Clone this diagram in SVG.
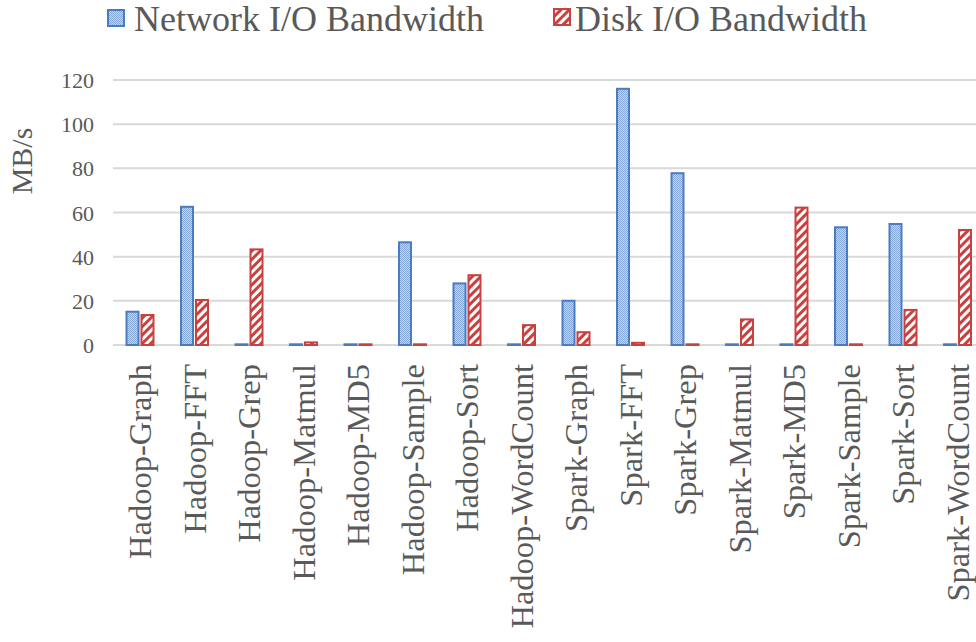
<svg xmlns="http://www.w3.org/2000/svg" width="976" height="642" viewBox="0 0 976 642">
<defs>
<pattern id="dots" width="2" height="2" patternUnits="userSpaceOnUse">
<rect width="2" height="2" fill="#c3d5ee"/>
<rect width="1" height="1" fill="#86a8d8"/>
<rect x="1" y="1" width="1" height="1" fill="#86a8d8"/>
</pattern>
<pattern id="hatch" width="6" height="6" patternUnits="userSpaceOnUse" patternTransform="rotate(45)">
<rect width="6" height="6" fill="#ffffff"/>
<rect width="3" height="6" fill="#c9413f"/>
</pattern>
</defs>
<style>
.grid{stroke:#d9d9d9;stroke-width:2;fill:none}
.net{fill:url(#dots);stroke:#4a7cc2;stroke-width:2}
.disk{fill:url(#hatch);stroke:#c9413f;stroke-width:2}
.tick{font-family:"Liberation Serif","Times New Roman",serif;font-size:22px;fill:#595959;text-anchor:end}
.cat{font-family:"Liberation Serif","Times New Roman",serif;font-size:32.5px;fill:#595959;text-anchor:end}
.leg{font-family:"Liberation Serif","Times New Roman",serif;font-size:36px;fill:#595959}
</style>
<rect width="976" height="642" fill="#ffffff"/>
<g id="gridlines">
<line class="grid" x1="113" y1="80" x2="976" y2="80"/>
<line class="grid" x1="113" y1="124.2" x2="976" y2="124.2"/>
<line class="grid" x1="113" y1="168.3" x2="976" y2="168.3"/>
<line class="grid" x1="113" y1="212.5" x2="976" y2="212.5"/>
<line class="grid" x1="113" y1="256.7" x2="976" y2="256.7"/>
<line class="grid" x1="113" y1="300.8" x2="976" y2="300.8"/>
<line class="grid" x1="113" y1="345" x2="976" y2="345"/>
</g>
<g id="yaxis">
<text class="tick" x="94" y="88">120</text>
<text class="tick" x="94" y="132">100</text>
<text class="tick" x="94" y="176">80</text>
<text class="tick" x="94" y="221">60</text>
<text class="tick" x="94" y="265">40</text>
<text class="tick" x="94" y="309">20</text>
<text class="tick" x="94" y="353">0</text>
<text font-family="'Liberation Serif','Times New Roman',serif" font-size="30" fill="#595959" text-anchor="middle" transform="translate(32,161) rotate(-90)">MB/s</text>
</g>
<g id="bars">
<rect class="net" x="126.5" y="311.7" width="12" height="33.3"/>
<rect class="disk" x="141.5" y="315" width="12" height="30"/>
<rect class="net" x="181" y="206.8" width="12" height="138.2"/>
<rect class="disk" x="196" y="300" width="12" height="45"/>
<rect class="net" x="235.5" y="344.3" width="12" height="0.7"/>
<rect class="disk" x="250.5" y="249.4" width="12" height="95.6"/>
<rect class="net" x="290" y="344.3" width="12" height="0.7"/>
<rect class="disk" x="305" y="342.4" width="12" height="2.6"/>
<rect class="net" x="344.5" y="344.3" width="12" height="0.7"/>
<rect class="disk" x="359.5" y="344.3" width="12" height="0.7"/>
<rect class="net" x="399" y="242.3" width="12" height="102.7"/>
<rect class="disk" x="414" y="344.3" width="12" height="0.7"/>
<rect class="net" x="453.5" y="283.4" width="12" height="61.6"/>
<rect class="disk" x="468.5" y="275.2" width="12" height="69.8"/>
<rect class="net" x="508" y="344.3" width="12" height="0.7"/>
<rect class="disk" x="523" y="325.1" width="12" height="19.9"/>
<rect class="net" x="562.5" y="300.8" width="12" height="44.2"/>
<rect class="disk" x="577.5" y="332.2" width="12" height="12.8"/>
<rect class="net" x="617" y="88.8" width="12" height="256.2"/>
<rect class="disk" x="632" y="342.8" width="12" height="2.2"/>
<rect class="net" x="671.5" y="173.2" width="12" height="171.8"/>
<rect class="disk" x="686.5" y="344.3" width="12" height="0.7"/>
<rect class="net" x="726" y="344.3" width="12" height="0.7"/>
<rect class="disk" x="741" y="319.4" width="12" height="25.6"/>
<rect class="net" x="780.5" y="344.3" width="12" height="0.7"/>
<rect class="disk" x="795.5" y="207.6" width="12" height="137.4"/>
<rect class="net" x="835" y="227.3" width="12" height="117.7"/>
<rect class="disk" x="850" y="344.3" width="12" height="0.7"/>
<rect class="net" x="889.5" y="224" width="12" height="121"/>
<rect class="disk" x="904.5" y="309.9" width="12" height="35.1"/>
<rect class="net" x="944" y="344.3" width="12" height="0.7"/>
<rect class="disk" x="959" y="230" width="12" height="115"/>
</g>
<g id="categories">
<text class="cat" transform="translate(151,364) rotate(-90)">Hadoop-Graph</text>
<text class="cat" transform="translate(205.5,364) rotate(-90)">Hadoop-FFT</text>
<text class="cat" transform="translate(260,364) rotate(-90)">Hadoop-Grep</text>
<text class="cat" transform="translate(314.5,364) rotate(-90)">Hadoop-Matmul</text>
<text class="cat" transform="translate(369,364) rotate(-90)">Hadoop-MD5</text>
<text class="cat" transform="translate(423.5,364) rotate(-90)">Hadoop-Sample</text>
<text class="cat" transform="translate(478,364) rotate(-90)">Hadoop-Sort</text>
<text class="cat" transform="translate(532.5,364) rotate(-90)">Hadoop-WordCount</text>
<text class="cat" transform="translate(587,364) rotate(-90)">Spark-Graph</text>
<text class="cat" transform="translate(641.5,364) rotate(-90)">Spark-FFT</text>
<text class="cat" transform="translate(696,364) rotate(-90)">Spark-Grep</text>
<text class="cat" transform="translate(750.5,364) rotate(-90)">Spark-Matmul</text>
<text class="cat" transform="translate(805,364) rotate(-90)">Spark-MD5</text>
<text class="cat" transform="translate(859.5,364) rotate(-90)">Spark-Sample</text>
<text class="cat" transform="translate(914,364) rotate(-90)">Spark-Sort</text>
<text class="cat" transform="translate(968.5,364) rotate(-90)">Spark-WordCount</text>
</g>
<g id="legend">
<rect class="net" x="108" y="10" width="16" height="16"/>
<text class="leg" x="134" y="31">Network I/O Bandwidth</text>
<rect class="disk" x="554" y="9" width="16" height="16"/>
<text class="leg" x="575" y="31">Disk I/O Bandwidth</text>
</g>
</svg>
